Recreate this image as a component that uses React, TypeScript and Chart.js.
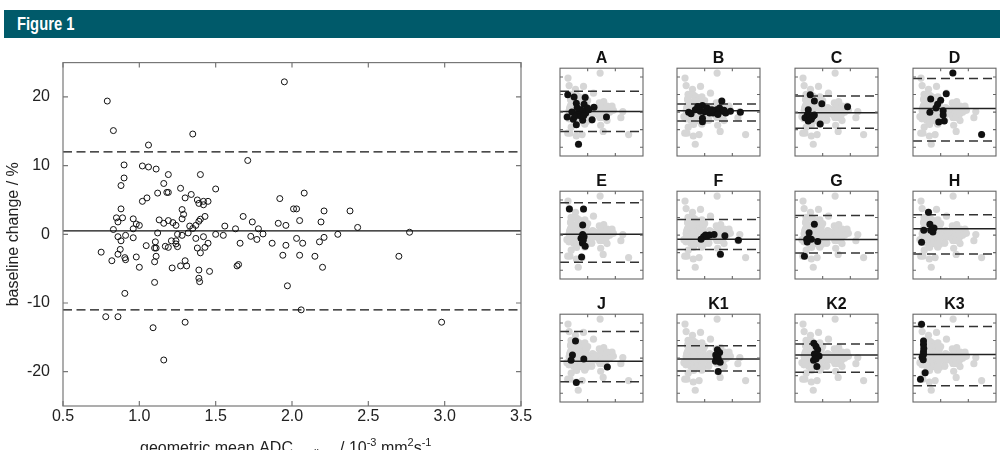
import React, { useEffect, useRef } from "react";
import { Chart, registerables } from "chart.js";

Chart.register(...registerables);
Chart.defaults.font.family = "'Liberation Sans', Arial, Helvetica, sans-serif";

// Pooled repeatability data: geometric mean ADC (10^-3 mm^2 s^-1) and baseline change (%)
const ADC_MEAN = [
  0.79, 0.83, 1.35, 1.06, 1.95, 1.71, 0.9, 1.02, 1.06, 1.11, 0.9, 0.88, 1.19, 1.4, 1.16, 1.27, 1.5, 1.12,
  1.18, 1.19, 1.34, 1.3, 1.05, 1.02, 1.38, 1.39, 1.42, 1.45, 1.42, 1.28, 1.29, 1.28, 0.88, 0.85, 0.89,
  0.86, 0.96, 0.98, 1.0, 0.96, 0.83, 1.13, 1.16, 1.19, 1.22, 1.24, 1.39, 1.4, 1.43, 1.33, 1.35, 1.37,
  1.68, 1.74, 1.56, 1.63, 1.78, 1.92, 1.91, 1.96, 2.05, 2.01, 2.03, 2.08, 2.21, 2.38, 2.19, 2.43, 2.77,
  1.81, 1.73, 1.77, 1.87, 1.96, 2.03, 2.07, 2.18, 2.21, 2.3, 1.94, 2.05, 2.15, 2.2, 2.7, 1.97, 2.06,
  2.98, 1.12, 0.86, 0.91, 0.96, 0.88, 1.25, 1.28, 1.32, 1.42, 1.37, 1.5, 1.55, 1.66, 0.75, 0.82, 0.86,
  0.875, 0.905, 0.91, 0.98, 1.0, 0.905, 1.045, 1.105, 1.1, 1.11, 1.11, 1.1, 1.1, 1.17, 1.19, 1.21, 1.24,
  1.24, 1.25, 1.215, 1.27, 1.3, 1.31, 1.38, 1.4, 1.43, 1.45, 1.39, 1.39, 1.395, 1.46, 1.64, 1.65, 0.78,
  0.86, 1.09, 1.3, 1.16,
];
const BASELINE_CHANGE = [
  19.4, 15.1, 14.6, 13.0, 22.2, 10.75, 10.1, 9.95, 9.8, 9.5, 8.2, 7.1, 8.7, 8.7, 7.4, 6.7, 6.6, 6.0,
  6.1, 6.1, 5.8, 5.3, 5.3, 4.8, 5.0, 4.5, 4.8, 4.8, 4.3, 3.6, 2.9, 2.25, 3.7, 2.4, 2.4,
  1.8, 2.25, 1.5, 1.3, 0.8, 0.7, 2.1, 1.6, 2.0, 1.7, 1.3, 1.9, 2.2, 2.6, 1.2, 0.85, 1.3,
  2.6, 1.8, 1.2, 0.8, 0.8, 5.2, 1.6, 1.3, 2.0, 3.7, 3.7, 6.0, 3.4, 3.4, 1.8, 1.0, 0.3,
  0.05, -0.3, -0.75, -1.3, -1.6, -0.6, -1.3, -1.1, -0.45, 0.0, -3.05, -3.05, -3.2, -4.8, -3.2, -7.5, -11.0,
  -12.8, 0.2, -0.35, -0.15, -0.5, -0.95, 0.0, -0.15, 0.2, -0.35, -0.6, 0.0, -0.15, -1.3, -2.6, -3.85, -2.9,
  -2.2, -3.4, -3.7, -3.3, -4.8, -8.6, -1.65, -1.1, -2.0, -2.0, -3.2, -4.0, -7.0, -1.75, -1.9, -0.95, -0.95,
  -1.4, -1.8, -4.9, -4.6, -3.85, -4.6, -2.0, -2.7, -1.9, -1.3, -5.2, -6.4, -6.9, -5.4, -4.6, -4.4, -12.0,
  -12.0, -13.6, -12.8, -18.3,
];

// Mean difference and limits of agreement for the pooled data
const MEAN_DIFF = 0.5;
const UPPER_LOA = 12.0;
const LOWER_LOA = -11.0;

const X_TICKS = [0.5, 1.0, 1.5, 2.0, 2.5, 3.0, 3.5];
const Y_TICKS = [-20, -10, 0, 10, 20];
const PANEL_X_TICKS = [1.5, 2.5];

// Individual sites
const SITE_NAMES = ["A", "B", "C", "D", "E", "F", "G", "H", "J", "K1", "K2", "K3"];
const SITE_MEAN = [0.3, 0.8, -0.3, 2.0, 0.5, -2.3, -2.5, 3.6, -1.8, -0.5, 1.8, 2.1];
const SITE_UPPER = [11.9, 4.6, 9.2, 19.2, 18.4, 8.9, 11.2, 11.6, 15.2, 7.1, 8.0, 18.0];
const SITE_LOWER = [-11.0, -5.0, -9.2, -16.5, -15.5, -8.2, -10.2, -10.7, -13.4, -7.3, -8.0, -15.7];

const SITE_A_ADC = [0.78, 1.01, 1.09, 1.41, 1.37, 1.73, 1.49, 1.26, 0.93, 1.32, 1.15, 0.76, 0.98, 1.09, 1.32, 1.66, 2.18, 1.2, 1.43, 1.17, 1.54, 1.04, 1.26, 1.12, 1.36];
const SITE_A_CHANGE = [9.9, 8.6, 5.0, 8.3, 4.5, 2.8, 2.3, 1.4, 0.1, 0.5, -1.0, -2.8, -4.1, -7.2, -4.6, -4.3, -2.8, -1.4, -0.5, -18.3, 1.4, -2.3, -2.3, 2.5, -2.0];
const SITE_B_ADC = [0.92, 1.01, 1.16, 1.42, 1.34, 1.42, 1.42, 1.59, 1.68, 1.81, 1.93, 2.12, 2.04, 2.15, 2.26, 2.43, 2.79, 1.25, 1.76, 1.98, 1.5, 2.2];
const SITE_B_CHANGE = [-0.1, -1.0, 1.4, 3.7, 0.5, -3.5, -5.5, 2.3, -0.5, -0.5, 1.4, 6.3, 2.3, 0.5, -0.5, 0.5, -0.1, 3.2, 1.4, -1.4, 0.2, 1.0];
const SITE_C_ADC = [1.05, 1.2, 1.47, 0.98, 2.4, 0.95, 0.86, 1.03, 1.15, 0.98, 1.09, 1.41, 1.2];
const SITE_C_CHANGE = [9.9, 6.3, 4.8, 1.4, 3.0, -1.4, -3.2, -2.8, -2.3, -5.0, -4.1, -6.8, -1.7];
const SITE_D_ADC = [1.94, 1.14, 1.5, 1.7, 1.39, 1.33, 1.11, 1.59, 1.43, 1.63, 1.59, 2.98];
const SITE_D_CHANGE = [22.3, 7.4, 6.8, 10.5, 4.5, 2.3, -0.1, 0.8, -5.7, -5.0, -1.7, -12.8];
const SITE_E_ADC = [0.84, 1.35, 1.32, 1.32, 1.26, 1.37, 1.31, 1.41, 1.34, 1.28];
const SITE_E_CHANGE = [14.8, 14.8, 5.7, 0.4, -1.8, -0.9, -4.5, -6.3, -3.0, -12.5];
const SITE_F_ADC = [1.37, 1.46, 1.53, 1.68, 1.84, 2.23, 2.72, 2.07, 1.59];
const SITE_F_CHANGE = [-2.3, -0.9, 0.0, 0.0, 0.4, -0.4, -3.0, -10.9, -0.5];
const SITE_G_ADC = [1.2, 1.01, 0.92, 0.94, 1.09, 1.32, 0.84, 0.98];
const SITE_G_CHANGE = [6.25, 1.4, -2.3, -3.9, -2.3, -3.6, -12.0, -1.8];
const SITE_H_ADC = [1.06, 1.11, 1.26, 0.89, 1.22, 1.14, 0.81];
const SITE_H_CHANGE = [13.0, 6.25, 4.1, 2.7, 1.8, 2.7, -4.1];
const SITE_J_ADC = [1.06, 0.95, 0.9, 1.36, 2.21, 1.09];
const SITE_J_CHANGE = [9.8, 1.8, -1.25, -0.5, -5.0, -13.9];
const SITE_K1_ADC = [1.96, 2.04, 1.9, 1.93, 2.0, 2.06, 1.89, 1.99, 1.98];
const SITE_K1_CHANGE = [4.8, 3.2, 1.8, -0.5, -1.25, -2.3, -1.8, -7.7, 0.5];
const SITE_K2_ADC = [1.18, 1.26, 1.32, 1.2, 1.29, 1.37, 1.17, 1.26, 1.29];
const SITE_K2_CHANGE = [8.4, 6.6, 4.8, 2.3, 1.8, 1.25, -1.25, -0.5, -4.8];
const SITE_K3_ADC = [0.81, 0.88, 0.88, 0.88, 0.88, 0.83, 0.87, 0.94, 0.77, 0.89];
const SITE_K3_CHANGE = [19.3, 9.8, 7.7, 3.6, 2.1, 0.5, -0.9, -8.4, -12.1, 5.4];

const SITE_ADC = [SITE_A_ADC, SITE_B_ADC, SITE_C_ADC, SITE_D_ADC, SITE_E_ADC, SITE_F_ADC, SITE_G_ADC, SITE_H_ADC, SITE_J_ADC, SITE_K1_ADC, SITE_K2_ADC, SITE_K3_ADC];
const SITE_CHANGE = [SITE_A_CHANGE, SITE_B_CHANGE, SITE_C_CHANGE, SITE_D_CHANGE, SITE_E_CHANGE, SITE_F_CHANGE, SITE_G_CHANGE, SITE_H_CHANGE, SITE_J_CHANGE, SITE_K1_CHANGE, SITE_K2_CHANGE, SITE_K3_CHANGE];

// Layout of the small-multiples grid
const PANEL_LEFTS = [557, 674, 792, 910];
const PANEL_TOPS = [67, 190, 313];
const PANEL_W = 89;
const PANEL_H = 92;

const toPoints = (xs: number[], ys: number[]) => xs.map((x, i) => ({ x, y: ys[i] }));
const hLine = (y: number) => [{ x: 0.5, y }, { x: 3.5, y }];

// Box around the plot area with MATLAB-style inward ticks on all four sides
const framePlugin = {
  id: "frame",
  afterDatasetsDraw(chart: any, _args: any, opts: any) {
    const { ctx, chartArea: a, scales } = chart;
    ctx.save();
    ctx.strokeStyle = opts.color;
    ctx.lineWidth = opts.width;
    ctx.strokeRect(a.left, a.top, a.right - a.left, a.bottom - a.top);
    ctx.beginPath();
    for (const v of opts.xTicks) {
      const x = scales.x.getPixelForValue(v);
      ctx.moveTo(x, a.bottom);
      ctx.lineTo(x, a.bottom - opts.len);
      ctx.moveTo(x, a.top);
      ctx.lineTo(x, a.top + opts.len);
    }
    for (const v of opts.yTicks) {
      const y = scales.y.getPixelForValue(v);
      ctx.moveTo(a.left, y);
      ctx.lineTo(a.left + opts.len, y);
      ctx.moveTo(a.right, y);
      ctx.lineTo(a.right - opts.len, y);
    }
    ctx.stroke();
    ctx.restore();
  },
};

// x-axis title with subscript and superscripts
const xTitlePlugin = {
  id: "xTitle",
  afterDraw(chart: any) {
    const { ctx } = chart;
    const base = 413;
    ctx.save();
    ctx.fillStyle = "#222";
    ctx.textBaseline = "alphabetic";
    ctx.textAlign = "left";
    const big = "16px 'Liberation Sans', Arial, sans-serif";
    const small = "11px 'Liberation Sans', Arial, sans-serif";
    ctx.font = big;
    ctx.fillText("geometric mean ADC", 140, base);
    ctx.font = small;
    ctx.fillText("all", 308, base + 4);
    let x = 340;
    const parts: [string, boolean][] = [["/ 10", false], ["-3", true], [" mm", false], ["2", true], ["s", false], ["-1", true]];
    for (const [t, sup] of parts) {
      ctx.font = sup ? small : big;
      ctx.fillText(t, x, sup ? base - 7 : base);
      x += ctx.measureText(t).width;
    }
    ctx.restore();
  },
};

function ChartCanvas({ config, style, width, height }: any) {
  const ref = useRef<HTMLCanvasElement>(null);
  useEffect(() => {
    const chart = new Chart(ref.current as HTMLCanvasElement, config);
    return () => chart.destroy();
  }, []);
  return <canvas ref={ref} width={width} height={height} style={{ position: "absolute", display: "block", width, height, ...style }} />;
}

function mainConfig() {
  return {
    type: "scatter",
    data: {
      datasets: [
        { type: "line", data: hLine(MEAN_DIFF), borderColor: "#111", borderWidth: 1.3, pointRadius: 0 },
        { type: "line", data: hLine(UPPER_LOA), borderColor: "#111", borderWidth: 1.3, borderDash: [9, 4.5], pointRadius: 0 },
        { type: "line", data: hLine(LOWER_LOA), borderColor: "#111", borderWidth: 1.3, borderDash: [9, 4.5], pointRadius: 0 },
        {
          data: toPoints(ADC_MEAN, BASELINE_CHANGE),
          pointRadius: 3,
          borderWidth: 1,
          borderColor: "#111",
          backgroundColor: "rgba(0,0,0,0)",
        },
      ],
    },
    options: {
      animation: false,
      responsive: false,
      events: [],
      layout: { padding: { left: 0, right: 23, top: 11, bottom: 0 } },
      plugins: {
        legend: { display: false },
        tooltip: { enabled: false },
        frame: { xTicks: X_TICKS, yTicks: Y_TICKS, len: 5, color: "#777", width: 1.2 },
      },
      scales: {
        x: {
          type: "linear",
          min: 0.5,
          max: 3.5,
          grid: { display: false, drawTicks: false },
          border: { display: false },
          ticks: { padding: 1, color: "#222", font: { size: 16 }, callback: (v: number) => v.toFixed(1) },
          afterBuildTicks: (s: any) => { s.ticks = X_TICKS.map((value) => ({ value })); },
          afterFit: (s: any) => { s.height = 44; },
        },
        y: {
          type: "linear",
          min: -25,
          max: 25,
          grid: { display: false, drawTicks: false },
          border: { display: false },
          ticks: { padding: 13, color: "#222", font: { size: 16 } },
          title: { display: true, text: "baseline change / %", color: "#222", font: { size: 16 }, padding: { top: 4, bottom: 0 } },
          afterBuildTicks: (s: any) => { s.ticks = Y_TICKS.map((value) => ({ value })); },
          afterFit: (s: any) => { s.width = 63; },
        },
      },
    },
    plugins: [framePlugin, xTitlePlugin],
  };
}

function panelConfig(i: number) {
  return {
    type: "scatter",
    data: {
      datasets: [
        { data: toPoints(SITE_ADC[i], SITE_CHANGE[i]), pointRadius: 3.5, borderWidth: 0, backgroundColor: "#111", order: 0 },
        { type: "line", data: hLine(SITE_MEAN[i]), borderColor: "#222", borderWidth: 1.5, pointRadius: 0, order: 1 },
        { type: "line", data: hLine(SITE_UPPER[i]), borderColor: "#333", borderWidth: 1.5, borderDash: [9, 5], pointRadius: 0, order: 1 },
        { type: "line", data: hLine(SITE_LOWER[i]), borderColor: "#333", borderWidth: 1.5, borderDash: [9, 5], pointRadius: 0, order: 1 },
        { data: toPoints(ADC_MEAN, BASELINE_CHANGE), pointRadius: 3.6, borderWidth: 0, backgroundColor: "#d6d6d6", order: 2 },
      ],
    },
    options: {
      animation: false,
      responsive: false,
      events: [],
      layout: { padding: { left: 1, right: 1, top: 0, bottom: 1 } },
      plugins: {
        legend: { display: false },
        tooltip: { enabled: false },
        title: { display: true, text: SITE_NAMES[i], color: "#111", font: { size: 16, weight: "bold" }, padding: 0 },
        frame: { xTicks: PANEL_X_TICKS, yTicks: Y_TICKS, len: 3, color: "#666", width: 1.1 },
      },
      scales: {
        x: { type: "linear", min: 0.5, max: 3.5, display: false },
        y: { type: "linear", min: -25, max: 25, display: false },
      },
    },
    plugins: [framePlugin],
  };
}

export default function App() {
  return (
    <div style={{ position: "absolute", left: 0, top: 0, width: 1000, height: 450, background: "#fff", overflow: "hidden" }}>
      <div
        style={{
          position: "absolute",
          left: 4,
          top: 10,
          width: 996,
          height: 28,
          background: "#005a6a",
          color: "#fff",
          fontFamily: "'Liberation Sans', Arial, sans-serif",
          fontWeight: "bold",
          fontSize: 18,
          lineHeight: "28px",
          paddingLeft: 13,
          boxSizing: "border-box",
        }}
      >
        <span style={{ display: "inline-block", transform: "scaleX(0.82)", transformOrigin: "left center" }}>Figure 1</span>
      </div>
      <ChartCanvas config={mainConfig()} width={544} height={410} style={{ left: 0, top: 40 }} />
      {SITE_NAMES.map((name, i) => {
        const left = PANEL_LEFTS[i % 4];
        const top = PANEL_TOPS[Math.floor(i / 4)];
        return (
          <ChartCanvas
            key={name}
            config={panelConfig(i)}
            width={PANEL_W + 2}
            height={PANEL_H + 19}
            style={{ left: left - 1, top: top - 18 }}
          />
        );
      })}
    </div>
  );
}
